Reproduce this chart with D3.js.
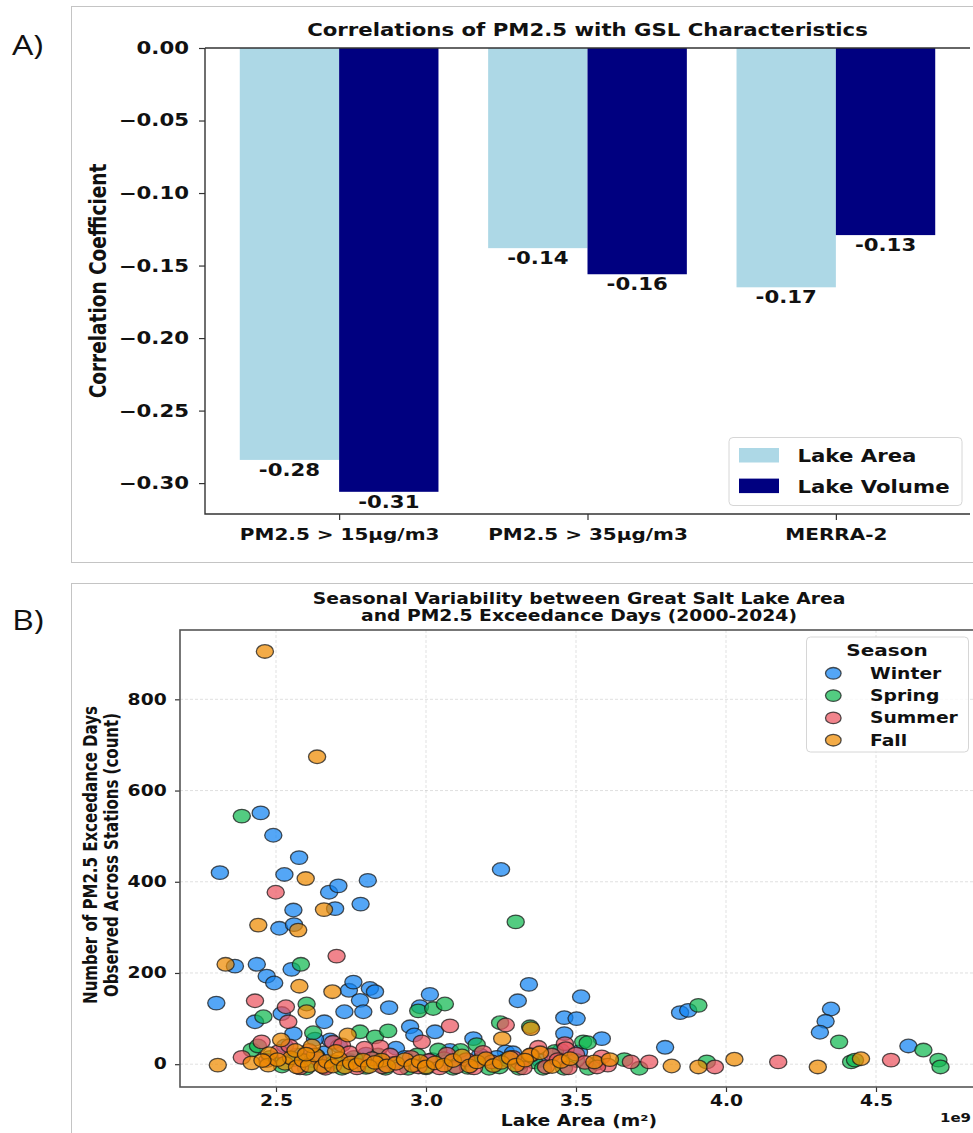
<!DOCTYPE html>
<html>
<head>
<meta charset="utf-8">
<script src="https://cdn.jsdelivr.net/npm/d3@7"></script>
<style>
  body { margin: 0; background: #fff; }
  text { font-family: "DejaVu Sans", sans-serif; font-weight: bold; fill: #111; }
  text.panel { font-family: "Open Sans", sans-serif; font-weight: normal; }
</style>
</head>
<body>
<div id="chart"></div>
<script>
// ---- panel A data ----
const categories = ["PM2.5 > 15µg/m3", "PM2.5 > 35µg/m3", "MERRA-2"];
const lakeArea = [-0.284, -0.138, -0.165];
const lakeVolume = [-0.306, -0.156, -0.129];
const barLabels = ["Lake Area", "Lake Volume"];
const yTicksA = [0, -0.05, -0.10, -0.15, -0.20, -0.25, -0.30];

// ---- panel B data: [lake area (1e9 m²), exceedance days] ----
const seasons = ["Winter", "Spring", "Summer", "Fall"];
const winter = [
  [2.313,420],[2.528,416],[2.677,377],[2.708,391],[2.806,403],[2.558,338],[2.697,341],[2.782,351],
  [2.449,551],[2.491,502],[2.577,453],[2.511,298],[2.560,306],[2.363,215],[2.436,219],[2.469,193],
  [2.494,178],[2.552,208],[2.743,162],[2.758,180],[2.813,166],[2.830,159],[2.780,140],[2.301,134],
  [2.519,111],[2.430,93],[2.661,93],[2.728,115],[2.791,115],[2.558,67],[2.680,53],[3.250,427],
  [3.343,175],[3.306,139],[3.517,148],[2.877,124],[3.013,153],[2.980,126],[2.947,82],[3.030,71],
  [2.961,64],[3.158,56],[3.266,27],[3.461,102],[3.502,100],[3.461,67],[3.510,27],[3.586,56],
  [3.797,37],[3.847,113],[3.874,118],[4.350,121],[4.332,94],[4.313,70],[4.608,40],
  [2.53,40],[2.57,20],[2.62,8],[2.66,25],[2.71,40],[2.745,8],[2.80,22],[2.845,5],[2.90,35],
  [2.93,15],[3.02,10],[3.08,30],[3.13,8],[3.18,20],[3.235,15],[3.29,25],[3.45,30],[3.38,8],[2.63,55]
];
const spring = [
  [2.386,544],[2.583,219],[3.299,312],[2.602,132],[2.458,104],[2.624,69],[2.780,71],[2.830,60],
  [2.419,31],[2.974,117],[3.024,122],[3.063,132],[2.874,73],[3.041,31],[3.169,43],[3.247,91],
  [3.347,82],[3.524,49],[3.539,47],[3.541,-9],[3.661,10],[3.711,-9],[3.908,129],[3.936,5],
  [4.377,49],[4.417,5],[4.430,9],[4.658,31],[4.708,9],[4.715,-6],
  [2.44,40],[2.48,15],[2.52,-4],[2.56,10],[2.60,-9],[2.635,18],[2.66,-6],[2.695,5],[2.72,-9],
  [2.76,15],[2.80,-7],[2.84,20],[2.865,-9],[2.89,2],[2.94,-9],[2.97,20],[3.00,-8],[3.06,12],
  [3.09,-9],[3.115,30],[3.14,-7],[3.185,12],[3.21,-9],[3.245,-6],[3.27,10],[3.31,-9],[3.36,5],
  [3.39,-9],[3.43,28],[3.46,-9],[3.50,8],[3.57,2]
];
const summer = [
  [2.499,377],[2.702,237],[2.430,139],[2.533,126],[2.541,93],[2.452,49],[2.386,15],[3.080,84],
  [2.986,49],[2.847,38],[3.266,86],[3.463,45],[3.466,34],[3.374,37],[3.419,20],[3.313,2],
  [3.586,16],[3.606,-2],[3.683,5],[3.744,5],[3.963,-6],[4.174,5],[4.550,9],
  [2.47,8],[2.51,28],[2.545,40],[2.58,-8],[2.61,30],[2.64,12],[2.665,-9],[2.69,48],[2.72,42],
  [2.745,25],[2.77,-8],[2.795,35],[2.82,12],[2.855,-6],[2.88,20],[2.915,-8],[2.95,15],[2.975,-6],
  [3.01,8],[3.045,-8],[3.07,22],[3.10,-6],[3.135,10],[3.16,-8],[3.19,26],[3.22,5],[3.29,15],
  [3.325,-8],[3.35,20],[3.40,-6],[3.44,10],[3.475,-8],[3.50,22],[3.53,4],[3.57,-6]
];
const fall = [
  [2.463,905],[2.637,674],[2.599,407],[2.660,339],[2.441,305],[2.574,294],[2.332,219],[2.578,171],
  [2.688,159],[2.602,115],[2.739,64],[2.517,53],[2.306,-2],[2.419,3],[2.477,23],[2.474,-2],
  [3.254,56],[3.350,78],[3.347,20],[3.561,5],[3.613,10],[3.819,-4],[3.908,-6],[4.028,11],
  [4.306,-6],[4.450,12],[2.852,9],
  [2.53,2],[2.55,14],[2.57,-6],[2.59,8],[2.61,-3],[2.63,20],[2.655,-5],[2.67,6],[2.69,-4],
  [2.71,12],[2.73,-6],[2.75,3],[2.77,-2],[2.79,9],[2.81,-5],[2.83,4],[2.87,-4],[2.90,2],
  [2.93,10],[2.955,-3],[2.98,6],[3.00,-6],[3.03,3],[3.06,-2],[3.09,8],[3.12,18],[3.145,-4],
  [3.17,5],[3.20,12],[3.225,-3],[3.25,4],[3.28,14],[3.30,-2],[3.33,9],[3.38,25],[3.42,-5],
  [3.45,6],[3.48,12],[2.565,30],[2.70,28],[2.62,40],[2.505,10],[2.455,8],[2.60,22]
];
const xTicksB = [2.5, 3.0, 3.5, 4.0, 4.5];
const yTicksB = [0, 200, 400, 600, 800];

// the picture is stretched sideways, text and dots follow it
var SX = 1.25;
var W = 973, H = 1133;

var svg = d3.select("#chart").append("svg")
    .attr("width", W)
    .attr("height", H);

function label(g, x, y, s, size, anchor, rot) {
    return g.append("text")
        .attr("transform", "translate(" + x + "," + y + ") scale(" + SX + ",1)" + (rot ? " rotate(-90)" : ""))
        .attr("text-anchor", anchor || "start")
        .attr("font-size", size)
        .text(s);
}

function styleAxis(ax, size) {
    ax.attr("font-family", null).attr("font-size", null);
    ax.select(".domain").remove();
    ax.selectAll(".tick line").attr("stroke", "#333").attr("stroke-width", 1.2);
    ax.selectAll(".tick text").attr("font-size", size).attr("fill", "#111");
}

// ================= Panel A =================
var gA = svg.append("g");
gA.append("rect").attr("x", 71.5).attr("y", 6.5).attr("width", 1000).attr("height", 556)
    .attr("fill", "none").attr("stroke", "#c4c4c4");
label(gA, 12, 55, "A)", 27).attr("class", "panel");
label(gA, 587.5, 36, "Correlations of PM2.5 with GSL Characteristics", 17, "middle");

var xA = d3.scaleLinear().domain([-0.54, 2.54]).range([205, 970]);
var yA = d3.scaleLinear().domain([-0.3213, 0]).range([514, 48]);
var barW = 0.4;
var barColors = ["#add8e6", "#000080"];

var groups = [lakeArea, lakeVolume];
groups.forEach(function (vals, s) {
    gA.selectAll(".bar" + s)
        .data(vals)
        .enter().append("rect")
        .attr("x", function (d, i) { return xA(i - barW + s * barW); })
        .attr("width", xA(barW) - xA(0))
        .attr("y", yA(0))
        .attr("height", function (d) { return yA(d) - yA(0); })
        .attr("fill", barColors[s]);
    vals.forEach(function (d, i) {
        label(gA, xA(i - barW / 2 + s * barW), yA(d) + 16, d.toFixed(2), 17, "middle");
    });
});

var axYA = gA.append("g").attr("transform", "translate(205,0)")
    .call(d3.axisLeft(yA).tickValues(yTicksA).tickFormat(d3.format(".2f")).tickSize(6).tickPadding(10));
styleAxis(axYA, 17);
axYA.selectAll(".tick text").attr("x", -16 / SX).attr("transform", "scale(" + SX + ",1)");

var axXA = gA.append("g").attr("transform", "translate(0,514)")
    .call(d3.axisBottom(xA).tickValues([0, 1, 2]).tickFormat(function (i) { return categories[i]; }).tickSize(6).tickPadding(9));
styleAxis(axXA, 16);
axXA.selectAll(".tick text").attr("transform", "scale(" + SX + ",1)");

gA.append("path").attr("d", "M205,48V514H970")
    .attr("fill", "none").attr("stroke", "#333").attr("stroke-width", 1.4);
gA.append("path").attr("d", "M205,48H970")
    .attr("fill", "none").attr("stroke", "#333").attr("stroke-width", 1.4);

label(gA, 106, 281, "Correlation Coefficient", 18.5, "middle", true);

// legend A
var legA = gA.append("g");
legA.append("rect").attr("x", 729).attr("y", 437.5).attr("width", 233).attr("height", 68)
    .attr("rx", 4).attr("fill", "#fff").attr("fill-opacity", 0.8).attr("stroke", "#d6d6d6");
barLabels.forEach(function (t, k) {
    legA.append("rect").attr("x", 739).attr("y", 448 + k * 30.6).attr("width", 40).attr("height", 14.5)
        .attr("fill", barColors[k]);
    label(legA, 797.5, 462 + k * 30.6, t, 17);
});

// ================= Panel B =================
var gB = svg.append("g");
gB.append("rect").attr("x", 71.5).attr("y", 583.5).attr("width", 1000).attr("height", 600)
    .attr("fill", "none").attr("stroke", "#c4c4c4");
label(gB, 12, 630, "B)", 27).attr("class", "panel");
label(gB, 579, 604, "Seasonal Variability between Great Salt Lake Area", 15, "middle");
label(gB, 579, 620.5, "and PM2.5 Exceedance Days (2000-2024)", 15, "middle");

var xB = d3.scaleLinear().domain([2.18, 4.84]).range([180, 978]);
var yB = d3.scaleLinear().domain([-50, 952]).range([1087, 630]);

// grid
gB.append("g").selectAll("line").data(xTicksB).enter().append("line")
    .attr("x1", function (d) { return xB(d); }).attr("x2", function (d) { return xB(d); })
    .attr("y1", 630).attr("y2", 1087)
    .attr("stroke", "#bbb").attr("stroke-opacity", 0.45).attr("stroke-dasharray", "3,2");
gB.append("g").selectAll("line").data(yTicksB).enter().append("line")
    .attr("x1", 180).attr("x2", 978)
    .attr("y1", function (d) { return yB(d); }).attr("y2", function (d) { return yB(d); })
    .attr("stroke", "#bbb").attr("stroke-opacity", 0.45).attr("stroke-dasharray", "3,2");

var seasonColors = ["#1284f2", "#10b850", "#eb5560", "#ee8a00"];
var seasonData = [winter, spring, summer, fall];

seasonData.forEach(function (pts, s) {
    gB.append("g").selectAll("ellipse")
        .data(pts)
        .enter().append("ellipse")
        .attr("cx", function (d) { return xB(d[0]); })
        .attr("cy", function (d) { return yB(d[1]); })
        .attr("rx", 8.6)
        .attr("ry", 6.8)
        .attr("fill", seasonColors[s])
        .attr("fill-opacity", 0.72)
        .attr("stroke", "#1a1a1a")
        .attr("stroke-opacity", 0.75)
        .attr("stroke-width", 1.3);
});

var axYB = gB.append("g").attr("transform", "translate(180,0)")
    .call(d3.axisLeft(yB).tickValues(yTicksB).tickSize(5).tickPadding(8));
styleAxis(axYB, 15);
axYB.selectAll(".tick text").attr("x", -13.3 / SX).attr("transform", "scale(" + SX + ",1)");

var axXB = gB.append("g").attr("transform", "translate(0,1087)")
    .call(d3.axisBottom(xB).tickValues(xTicksB).tickFormat(d3.format(".1f")).tickSize(5).tickPadding(3));
styleAxis(axXB, 15);
axXB.selectAll(".tick text").attr("transform", "scale(" + SX + ",1)");

gB.append("rect").attr("x", 180).attr("y", 630).attr("width", 798).attr("height", 457)
    .attr("fill", "none").attr("stroke", "#555").attr("stroke-width", 1.6);

label(gB, 579, 1126, "Lake Area (m²)", 15, "middle");
label(gB, 971, 1122, "1e9", 12, "end");
label(gB, 97, 855, "Number of PM2.5 Exceedance Days", 15, "middle", true);
label(gB, 118, 855, "Observed Across Stations (count)", 15, "middle", true);

// legend B
var legB = gB.append("g");
legB.append("rect").attr("x", 806.5).attr("y", 637).attr("width", 162).attr("height", 115)
    .attr("rx", 4).attr("fill", "#fff").attr("fill-opacity", 0.8).attr("stroke", "#d6d6d6");
label(legB, 887, 656, "Season", 16, "middle");
seasons.forEach(function (t, k) {
    var cy = 673.3 + k * 22.3;
    legB.append("ellipse").attr("cx", 833.3).attr("cy", cy).attr("rx", 7.8).attr("ry", 5.8)
        .attr("fill", seasonColors[k]).attr("fill-opacity", 0.72)
        .attr("stroke", "#1a1a1a").attr("stroke-opacity", 0.75).attr("stroke-width", 1.3);
    label(legB, 870, cy + 5.5, t, 15);
});
</script>
</body>
</html>
